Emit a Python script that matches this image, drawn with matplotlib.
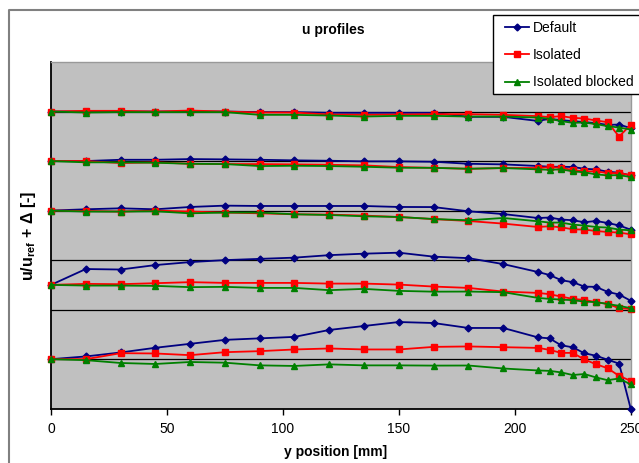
import matplotlib
matplotlib.use('Agg')
import matplotlib.pyplot as plt
from matplotlib.lines import Line2D
from matplotlib.patches import Rectangle

plt.rcParams['font.family'] = ['Liberation Sans', 'DejaVu Sans']
plt.rcParams['mathtext.fontset'] = 'custom'
plt.rcParams['mathtext.rm'] = 'Liberation Sans'
plt.rcParams['mathtext.bf'] = 'Liberation Sans:bold'

# y positions [mm]
y_pos = [0, 15, 30, 45, 60, 75, 90, 105, 120, 135, 150, 165, 180, 195, 210,
         215, 220, 225, 230, 235, 240, 245, 250]

# profile offsets (bottom to top)
offsets = [1.0, 2.5, 4.0, 5.0, 6.0]

# u/uref - 1 for each profile, bottom to top
default = [
    [0, 0.055, 0.135, 0.23, 0.31, 0.39, 0.42, 0.45, 0.59, 0.67, 0.75, 0.73, 0.63, 0.63, 0.44,
     0.42, 0.28, 0.24, 0.12, 0.07, -0.01, -0.09, -1.0],
    [0, 0.32, 0.31, 0.40, 0.46, 0.50, 0.525, 0.55, 0.60, 0.63, 0.65, 0.57, 0.54, 0.42, 0.26,
     0.20, 0.095, 0.055, -0.035, -0.04, -0.14, -0.195, -0.32],
    [0, 0.026, 0.046, 0.026, 0.073, 0.10, 0.093, 0.093, 0.093, 0.093, 0.073, 0.071, -0.014, -0.07, -0.15,
     -0.14, -0.18, -0.195, -0.235, -0.21, -0.25, -0.30, -0.385],
    [0, 0, 0.026, 0.026, 0.04, 0.034, 0.026, 0.014, 0.006, -0.006, -0.006, -0.014, -0.055, -0.067, -0.10,
     -0.115, -0.115, -0.12, -0.155, -0.17, -0.215, -0.235, -0.29],
    [0, 0, 0, 0, 0, 0, -0.012, -0.012, -0.026, -0.026, -0.026, -0.026, -0.107, -0.107, -0.19,
     -0.147, -0.174, -0.194, -0.214, -0.234, -0.27, -0.263, -0.335],
]
isolated = [
    [0, 0, 0.121, 0.115, 0.081, 0.141, 0.162, 0.196, 0.216, 0.196, 0.196, 0.248, 0.257, 0.242, 0.228,
     0.188, 0.127, 0.127, -0.006, -0.101, -0.182, -0.337, -0.438],
    [0, 0.02, 0.014, 0.034, 0.055, 0.04, 0.04, 0.04, 0.026, 0.026, 0.006, -0.034, -0.061, -0.135, -0.162,
     -0.188, -0.236, -0.283, -0.303, -0.349, -0.384, -0.47, -0.485],
    [0, -0.008, -0.02, 0, -0.02, -0.04, -0.055, -0.075, -0.081, -0.101, -0.129, -0.172, -0.21, -0.263, -0.331,
     -0.317, -0.337, -0.378, -0.384, -0.412, -0.432, -0.444, -0.479],
    [0, 0, -0.04, -0.026, -0.055, -0.061, -0.061, -0.067, -0.075, -0.087, -0.121, -0.137, -0.156, -0.141, -0.141,
     -0.121, -0.135, -0.182, -0.208, -0.208, -0.242, -0.242, -0.283],
    [0, 0.014, 0.014, 0, 0.02, 0, -0.02, -0.02, -0.061, -0.067, -0.061, -0.053, -0.053, -0.067, -0.093,
     -0.113, -0.093, -0.127, -0.141, -0.182, -0.214, -0.505, -0.269],
]
isolated_blocked = [
    [0, -0.02, -0.077, -0.097, -0.057, -0.071, -0.125, -0.137, -0.105, -0.125, -0.125, -0.13, -0.128, -0.188, -0.228,
     -0.236, -0.267, -0.32, -0.30, -0.368, -0.424, -0.39, -0.51],
    [0, -0.014, -0.014, -0.02, -0.046, -0.04, -0.061, -0.061, -0.107, -0.081, -0.121, -0.137, -0.135, -0.147, -0.263,
     -0.283, -0.297, -0.309, -0.337, -0.349, -0.384, -0.424, -0.47],
    [0, -0.02, -0.02, -0.014, -0.055, -0.04, -0.04, -0.075, -0.089, -0.115, -0.129, -0.17, -0.196, -0.149, -0.216,
     -0.242, -0.242, -0.283, -0.303, -0.331, -0.343, -0.384, -0.398],
    [0, -0.026, -0.026, -0.034, -0.055, -0.061, -0.101, -0.095, -0.101, -0.115, -0.135, -0.137, -0.156, -0.141, -0.168,
     -0.176, -0.168, -0.208, -0.228, -0.269, -0.289, -0.283, -0.323],
    [0, -0.02, -0.012, -0.012, -0.012, -0.012, -0.067, -0.067, -0.081, -0.101, -0.087, -0.087, -0.101, -0.101, -0.121,
     -0.147, -0.194, -0.228, -0.222, -0.255, -0.295, -0.323, -0.364],
]

W, H = 639, 463
fig = plt.figure(figsize=(W / 100, H / 100), dpi=100)
ax = fig.add_axes([51 / W, 1 - 408.7 / H, (630.7 - 51) / W, (408.7 - 62) / H])
ax.set_facecolor('#C0C0C0')

series = [
    (default, 'Default', '#000080', 'D', 3.5),
    (isolated, 'Isolated', '#FF0000', 's', 4.5),
    (isolated_blocked, 'Isolated blocked', '#008000', '^', 5),
]
for profiles, name, col, mk, ms in series:
    for i, prof in enumerate(profiles):
        yy = [offsets[i] + v for v in prof]
        ax.plot(y_pos, yy, '-', color=col, marker=mk, markersize=ms, lw=1.3,
                label=name if i == 0 else None, zorder=3, clip_on=False)

ax.set_xlim(0, 250)
ax.set_ylim(0, 7)
ax.set_xticks([0, 50, 100, 150, 200, 250])
ax.set_yticks([1, 2, 3, 4, 5, 6])
ax.set_yticklabels([])
ax.grid(axis='y', color='black', lw=0.9, zorder=1)
ax.tick_params(axis='y', length=0)
ax.tick_params(axis='x', direction='out', length=4.5, width=1, pad=5, labelsize=10)
for s in ['left', 'bottom']:
    ax.spines[s].set_color('black')
    ax.spines[s].set_linewidth(1.3)
for s in ['top', 'right']:
    ax.spines[s].set_color('#999999')
    ax.spines[s].set_linewidth(1)

fig.text(333 / W, 1 - 30 / H, 'u profiles', ha='center', va='center', fontsize=10, fontweight='bold')
fig.text(336 / W, 1 - 452 / H, 'y position [mm]', ha='center', va='center', fontsize=10, fontweight='bold')
fig.text(28 / W, 1 - 236 / H, r'u/u$_{\mathbf{ref}}$ + Δ [-]', ha='center', va='center',
         rotation=90, fontsize=11.5, fontweight='bold')

# chart area border
fig.add_artist(Line2D([9 / W, 9 / W, 1], [0, 1 - 10 / H, 1 - 10 / H], color='#808080', lw=1.5,
                      transform=fig.transFigure))

# legend box
fig.add_artist(Rectangle((493 / W, 1 - 94 / H), 160 / W, 79 / H, transform=fig.transFigure,
                         facecolor='white', edgecolor='black', lw=1, zorder=4))
leg = fig.legend(loc='upper left', bbox_to_anchor=(505 / W, 1 - 21 / H), frameon=False,
                 fontsize=10, handlelength=1.7, handletextpad=0.3, labelspacing=0.95,
                 borderpad=0, borderaxespad=0)
leg.set_zorder(6)

fig.savefig('out.png', dpi=100)
